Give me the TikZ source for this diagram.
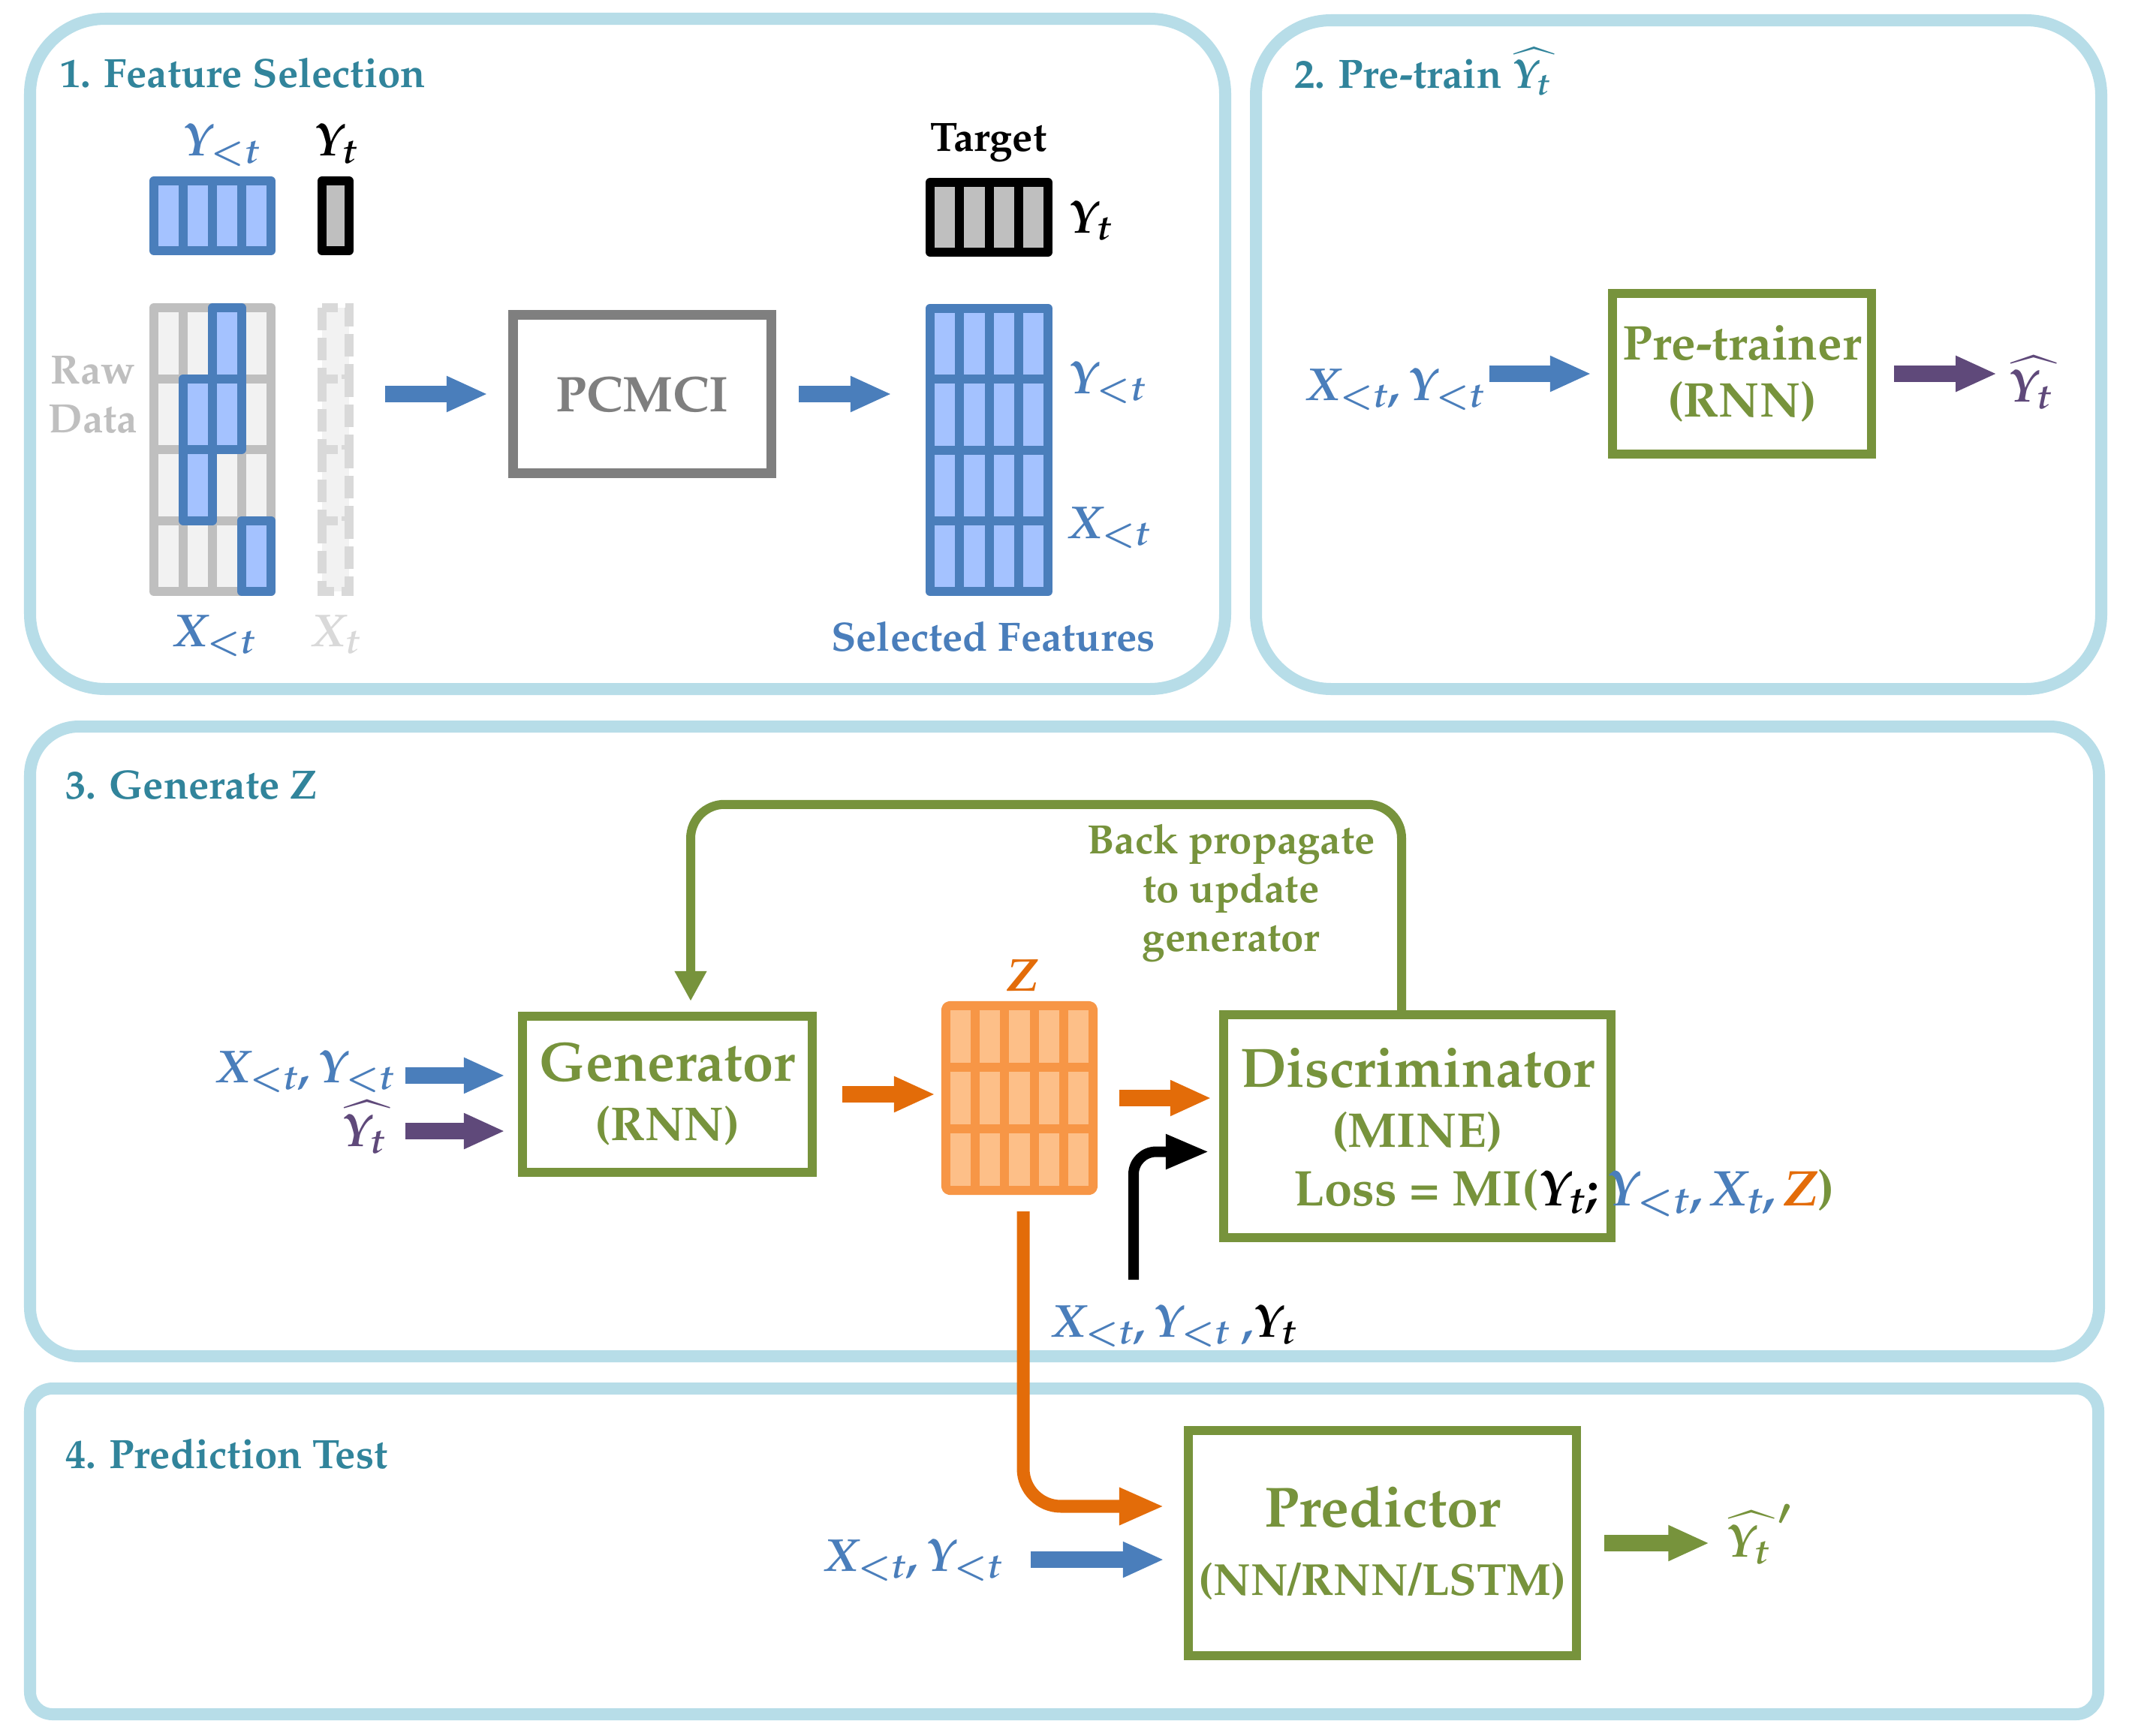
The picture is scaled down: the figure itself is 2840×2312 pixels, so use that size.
\documentclass[tikz,border=0pt]{standalone}
\usepackage[T1]{fontenc}
\usepackage{mathpazo}
\usepackage{amsmath}
\usetikzlibrary{arrows.meta,positioning}

\definecolor{panelblue}{HTML}{B7DDE8}
\definecolor{titleteal}{HTML}{31849B}
\definecolor{featblue}{HTML}{4A7EBB}
\definecolor{cellblue}{HTML}{A4C2FF}
\definecolor{gengreen}{HTML}{77933C}
\definecolor{zorange}{HTML}{F79646}
\definecolor{zfill}{HTML}{FDBF88}
\definecolor{arrorange}{HTML}{E36C09}
\definecolor{hatpurple}{HTML}{5F497A}
\definecolor{boxgray}{HTML}{7F7F7F}
\definecolor{rawgray}{HTML}{BFBFBF}
\definecolor{rawfill}{HTML}{F2F2F2}
\definecolor{ghostgray}{HTML}{D9D9D9}

% italic letters of the series
\newcommand{\mX}{\textit{X}}
\newcommand{\mY}{\textit{Y}}
\newcommand{\mZ}{\textit{Z}}
\newcommand{\mt}{\textit{t}}

\tikzset{
    %panels and titles
    panel/.style={
      draw=panelblue, line width=0.16cm},
    title/.style={
      anchor=base west, inner sep=0pt,
      text=titleteal,
      font=\fontsize{15.5}{18}\selectfont\bfseries\boldmath},
    %model boxes
    model/.style={
      rectangle,
      draw=gengreen, line width=0.12cm,
      text=gengreen,
      align=center, inner sep=0pt},
    %matrices of values
    cellline/.style={
      line width=0.12cm, line join=round},
    ghost/.style={
      line width=0.12cm, draw=ghostgray, fill=rawfill,
      dash pattern=on 0.3cm off 0.1cm},
    %math labels
    lab/.style={
      anchor=base west, inner sep=0pt,
      font=\fontsize{17.5}{20}\selectfont\bfseries\boldmath},
    note/.style={
      inner sep=0pt, align=center,
      font=\fontsize{15.5}{18.5}\selectfont\bfseries},
    %block arrows
    fatarrow/.style={
      line width=0.22cm,
      -{Triangle[length=0.55cm, width=0.44cm]}},
}

\begin{document}
\begin{tikzpicture}[x=0.01cm, y=-0.01cm]
    \useasboundingbox (0,0) rectangle (2840,2312);
    \fill[white] (0,0) rectangle (2840,2312);

    % four panels
    \draw[panel, rounded corners=1cm] (40,25) rectangle (1632,918);
    \draw[panel, rounded corners=1cm] (1673,27) rectangle (2799,918);
    \draw[panel, rounded corners=0.65cm] (40,968) rectangle (2796,1807);
    \draw[panel, rounded corners=0.3cm] (40,1850) rectangle (2795,2284);

    \node (t1) [title] at (80,117) {1. Feature Selection};
    \node (t2) [title] at (1724,118) {2. Pre-train $\widehat{\mY_{\mt}\,}$};
    \node (t3) [title] at (87,1064) {3. Generate Z};
    \node (t4) [title] at (87,1956) {4. Prediction Test};

    % ---- 1. feature selection
    \fill[cellblue] (205,241) rectangle (361,334);
    \draw[cellline, featblue] (205,241) rectangle (361,334);
    \foreach \i in {1,2,3}
      \draw[cellline, featblue] ({205+39*\i},241) -- ({205+39*\i},334);
    \filldraw[cellline, draw=black, fill=rawgray] (429,241) rectangle (465,334);

    \fill[rawfill] (205,410) rectangle (361,788);
    \draw[cellline, rawgray] (205,410) rectangle (361,788);
    \foreach \i in {1,2,3}
      \draw[cellline, rawgray] ({205+39*\i},410) -- ({205+39*\i},788);
    \foreach \j in {1,2,3}
      \draw[cellline, rawgray] (205,{410+94.5*\j}) -- (361,{410+94.5*\j});
    \foreach \c/\r in {3/1,2/2,3/2,2/3,4/4}
      \filldraw[cellline, draw=featblue, fill=cellblue]
        ({205+39*(\c-1)},{410+94.5*(\r-1)}) rectangle ++(39,94.5);
    \foreach \r in {1,...,4}
      \filldraw[ghost] (429,{410+94.5*(\r-1)}) rectangle ++(36,94.5);

    \node (ylt) [lab, text=featblue] at (243,208) {$\mY_{<\mt}$};
    \node (yt) [lab] at (418,208) {$\mY_{\mt}$};
    \node (xlt) [lab, text=featblue] at (231,861) {$\mX_{<\mt}$};
    \node (xt) [lab, text=ghostgray] at (415,861) {$\mX_{\mt}$};
    \node (raw) [note, text=rawgray] at (124,526) {Raw\\Data};

    \node (pcmci) [rectangle, draw=boxgray, line width=0.13cm,
          minimum width=3.44cm, minimum height=2.11cm,
          text=boxgray, font=\fontsize{19}{22}\selectfont\bfseries] at (855.5,525)
          {PCMCI};

    \node (target) [note, anchor=base] at (1317,202) {Target};
    \filldraw[cellline, draw=black, fill=rawgray] (1239,243) rectangle (1396,336);
    \foreach \i in {1,2,3}
      \draw[cellline] ({1239+39.25*\i},243) -- ({1239+39.25*\i},336);

    \node (sel) [rectangle, draw=featblue, fill=cellblue, cellline,
          minimum width=1.57cm, minimum height=3.77cm, inner sep=0pt]
          at (1317.5,599.5) {};
    \foreach \i in {1,2,3}
      \draw[cellline, featblue] ({1239+39.25*\i},411) -- ({1239+39.25*\i},788);
    \foreach \j in {1,2,3}
      \draw[cellline, featblue] (1239,{411+94.25*\j}) -- (1396,{411+94.25*\j});

    \node (ytr) [lab] at (1423,310) {$\mY_{\mt}$};
    \node (yltr) [lab, text=featblue] at (1423,524) {$\mY_{<\mt}$};
    \node (xltr) [lab, text=featblue] at (1423,717) {$\mX_{<\mt}$};
    \node (selnote) [note, anchor=base, text=featblue] at (1323,867)
          {Selected Features};

    \draw[fatarrow, featblue] ([xshift=-1.64cm]pcmci.west) -- ([xshift=-0.27cm]pcmci.west);
    \draw[fatarrow, featblue] ([xshift=0.30cm]pcmci.east) -- ([xshift=-0.45cm]pcmci.east -| sel.west);

    % ---- 2. pre-train
    \node (pre) [model, minimum width=3.45cm, minimum height=2.14cm,
          font=\fontsize{18.5}{21.7}\selectfont\bfseries]
          at (2320.5,498) {Pre-trainer\\(RNN)};
    \node (prein) [lab, text=featblue] at (1740,533) {$\mX_{<\mt}, \mY_{<\mt}$};
    \node (preout) [lab, text=hatpurple] at (2675,535) {$\widehat{\mY_{\mt}\,}$};
    \draw[fatarrow, featblue] ([xshift=-1.58cm]pre.west) -- ([xshift=-0.22cm]pre.west);
    \draw[fatarrow, hatpurple] ([xshift=0.24cm]pre.east) -- ([xshift=1.61cm]pre.east);

    % ---- 3. generate Z
    \node (gen) [model, minimum width=3.86cm, minimum height=2.08cm,
          font=\fontsize{21}{22.5}\selectfont\bfseries]
          at (889,1458) {Generator\\{\fontsize{18}{22.5}\selectfont (RNN)}};
    \node (disc) [model, minimum width=5.16cm, minimum height=2.97cm]
          at (1888,1500.5) {};
    \node (disctext) [below=0.50cm of disc.north, align=center, inner sep=0pt,
          text=gengreen, font=\fontsize{21}{22.7}\selectfont\bfseries]
          {Discriminator\\{\fontsize{18.5}{22.7}\selectfont (MINE)}};
    \node (z) [rectangle, draw=zorange, fill=zfill, cellline,
          rounded corners=0.05cm, minimum width=1.96cm, minimum height=2.46cm,
          inner sep=0pt] at (1358,1463) {};
    \foreach \i in {1,...,4}
      \draw[cellline, zorange] ({1260+39.2*\i},1340) -- ({1260+39.2*\i},1586);
    \foreach \j in {1,2}
      \draw[cellline, zorange] (1260,{1340+82*\j}) -- (1456,{1340+82*\j});
    \node (zlab) [lab, anchor=base, text=arrorange] at (1362,1320) {$\mZ$};

    \node (genin) [lab, text=featblue] at (288,1442) {$\mX_{<\mt}, \mY_{<\mt}$};
    \node (genhat) [lab, text=hatpurple] at (455,1527) {$\widehat{\mY_{\mt}\,}$};
    \node (discin) [lab, text=featblue] at (1401,1781)
          {$\mX_{<\mt}, \mY_{<\mt}$ ,\textcolor{black}{$\mY_{\mt}$}};
    \node (loss) [lab, text=gengreen, font=\fontsize{19}{22}\selectfont\bfseries\boldmath]
          at (1723,1606)
          {Loss = MI(\textcolor{black}{$\mY_{\mt}$;}\,\textcolor{featblue}{$\mY_{<\mt}, \mX_{\mt}$,}\,\textcolor{arrorange}{$\mZ$})};
    \node (bp) [note, text=gengreen] at (1640,1190)
          {Back propagate\\to update\\generator};
    \coordinate (xyin) at (1510,1705);

    \draw[fatarrow, featblue] ([xshift=-1.50cm,yshift=0.25cm]gen.west) -- ([xshift=-0.17cm,yshift=0.25cm]gen.west);
    \draw[fatarrow, hatpurple] ([xshift=-1.50cm,yshift=-0.49cm]gen.west) -- ([xshift=-0.17cm,yshift=-0.49cm]gen.west);
    \draw[fatarrow, arrorange] ([xshift=0.34cm]gen.east) -- ([xshift=-0.08cm]gen.east -| z.west);
    \draw[fatarrow, arrorange] ([xshift=0.29cm]z.east) -- ([xshift=-0.10cm]z.east -| disc.west);
    \draw[line width=0.14cm, rounded corners=0.3cm,
          -{Triangle[length=0.58cm, width=0.43cm]}]
          (xyin) |- ([xshift=-0.13cm,yshift=-0.34cm]disc.west);
    \draw[gengreen, line width=0.12cm, rounded corners=0.45cm,
          -{Triangle[length=0.4cm, width=0.4cm]}]
          ([xshift=-0.21cm]disc.north) -- ++(0,2.74cm) -| ([xshift=0.31cm,yshift=0.14cm]gen.north);

    % ---- 4. prediction test
    \node (pred) [model, minimum width=5.17cm, minimum height=3.0cm,
          font=\fontsize{21.5}{26}\selectfont\bfseries]
          at (1841.5,2056) {Predictor\\{\fontsize{17}{26}\selectfont (NN/RNN/LSTM)}};
    \node (predin) [lab, text=featblue] at (1098,2093) {$\mX_{<\mt}, \mY_{<\mt}$};
    \node (predout) [lab, text=gengreen] at (2299,2074) {$\widehat{\mY_{\mt}\,}'$};

    \draw[arrorange, line width=0.17cm, rounded corners=0.5cm,
          -{Triangle[length=0.6cm, width=0.46cm]}]
          ([xshift=0.05cm,yshift=-0.22cm]z.south) |- ([xshift=-0.26cm,yshift=0.49cm]pred.west);
    \draw[fatarrow, featblue] ([xshift=-2.04cm,yshift=-0.22cm]pred.west) -- ([xshift=-0.26cm,yshift=-0.22cm]pred.west);
    \draw[fatarrow, gengreen] ([xshift=0.31cm]pred.east) -- ([xshift=1.71cm]pred.east);
\end{tikzpicture}
\end{document}
